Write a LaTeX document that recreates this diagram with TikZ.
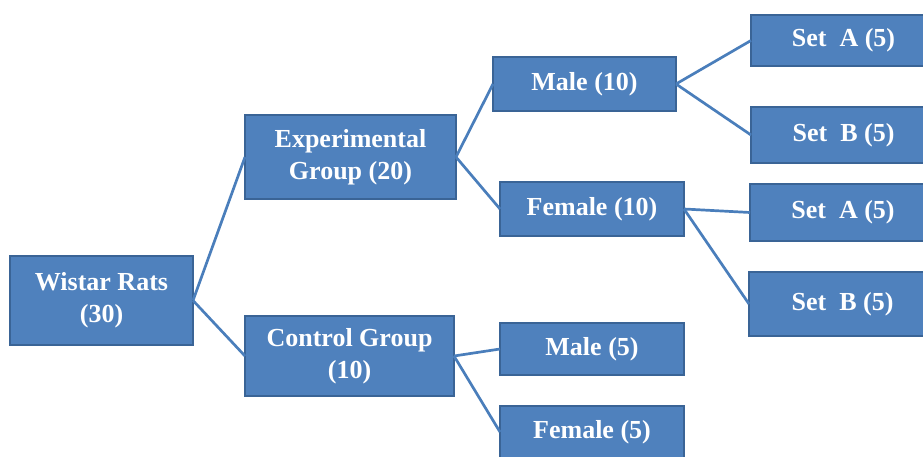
\documentclass[tikz,border=0pt]{standalone}
\usepackage{fontspec}
\setmainfont{Liberation Serif}
\usepackage{xcolor}
\usepackage{tikz}
\usetikzlibrary{positioning}

\definecolor{boxblue}{HTML}{4F81BD}
\definecolor{boxedge}{HTML}{3A6496}
\definecolor{linkblue}{HTML}{4A7EBB}

\begin{document}
\begin{tikzpicture}[
  x=1pt, y=-1pt,
  font=\bfseries\fontsize{26}{32}\selectfont,
  grp/.style={draw=boxedge, line width=1.3pt, fill=boxblue, text=white,
              align=center, inner sep=0pt, outer sep=0pt},
  link/.style={draw=linkblue, line width=2.7pt}
]
\useasboundingbox (0,0) rectangle (923,457);
\clip (0,0) rectangle (923,457);
% root
\node[grp, minimum width=183pt, minimum height=89pt] (rats) at (101.5,300.5) {Wistar Rats\\(30)};
% groups
\node[grp, minimum width=211pt, minimum height=84pt] (exp) at (350.5,157) {Experimental\\Group (20)};
\node[grp, minimum width=209pt, minimum height=80pt] (ctrl) at (349.5,356) {Control Group\\(10)};
% sexes
\node[grp, minimum width=183pt, minimum height=54pt] (male10) at (584.5,84) {Male (10)};
\node[grp, minimum width=184pt, minimum height=54pt] (fem10) at (592,209) {Female (10)};
\node[grp, minimum width=184pt, minimum height=52pt] (male5) at (592,349) {Male (5)};
\node[grp, minimum width=184pt, minimum height=52pt] (fem5) at (592,432) {Female (5)};
% sets
\node[grp, minimum width=185pt, minimum height=51pt] (seta1) at (843.5,40.5) {Set\ \ A~(5)};
\node[grp, minimum width=185pt, minimum height=56pt] (setb1) at (843.5,135) {Set\ \ B~(5)};
\node[grp, minimum width=186pt, minimum height=57pt] (seta2) at (843,212.5) {Set\ \ A~(5)};
\node[grp, minimum width=187pt, minimum height=64pt] (setb2) at (842.5,304) {Set\ \ B~(5)};
% root -> groups
\draw[link] (rats.east) -- (exp.west);
\draw[link] (rats.east) -- (ctrl.west);
% groups -> sexes
\draw[link] (exp.east) -- (male10.west);
\draw[link] (exp.east) -- (fem10.west);
\draw[link] (ctrl.east) -- (male5.west);
\draw[link] (ctrl.east) -- (fem5.west);
% sexes -> sets
\draw[link] (male10.east) -- (seta1.west);
\draw[link] (male10.east) -- (setb1.west);
\draw[link] (fem10.east) -- (seta2.west);
\draw[link] (fem10.east) -- (setb2.west);
\end{tikzpicture}
\end{document}
